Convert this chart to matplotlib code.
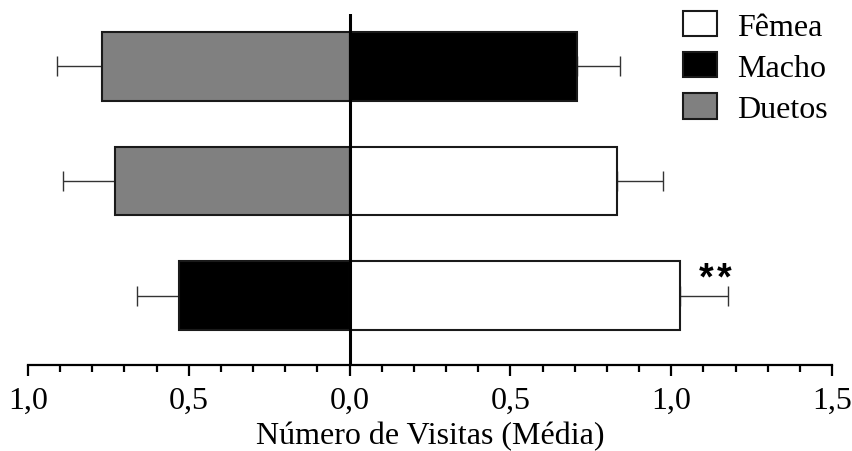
import numpy as np
import matplotlib
matplotlib.use('Agg')
import matplotlib.pyplot as plt
from matplotlib.patches import Patch
from matplotlib.ticker import FixedLocator, FuncFormatter

plt.rcParams['font.family'] = ['Liberation Serif', 'DejaVu Serif']

# rows from bottom to top: Fêmea x Macho, Fêmea x Duetos, Macho x Duetos
rows = [0, 1, 2]
left_vals = [0.529, 0.730, 0.769]
left_err = [0.131, 0.160, 0.140]
left_groups = ['Macho', 'Duetos', 'Duetos']
right_vals = [1.027, 0.830, 0.708]
right_err = [0.149, 0.145, 0.132]
right_groups = ['Fêmea', 'Fêmea', 'Macho']
signif = ['**', '', '']

groups = ['Fêmea', 'Macho', 'Duetos']
colors = {'Fêmea': 'white', 'Macho': 'black', 'Duetos': '#808080'}

fig = plt.figure(figsize=(8.53, 4.52), dpi=100)
ax = fig.add_axes([28 / 853, 1 - 365.5 / 452, 804 / 853, 350.5 / 452])

edge = '#1a1a1a'
ax.barh(rows, [-v for v in left_vals], height=0.6,
        color=[colors[g] for g in left_groups], edgecolor=edge, linewidth=1.5, zorder=2)
ax.barh(rows, right_vals, height=0.6,
        color=[colors[g] for g in right_groups], edgecolor=edge, linewidth=1.5, zorder=2)

# one-sided error bars, pointing away from zero
ax.errorbar([-v for v in left_vals], rows, xerr=[left_err, np.zeros(3)],
            fmt='none', ecolor='#333333', elinewidth=1.0, capsize=7.5, capthick=1.0, zorder=1)
ax.errorbar(right_vals, rows, xerr=[np.zeros(3), right_err],
            fmt='none', ecolor='#333333', elinewidth=1.0, capsize=7.5, capthick=1.0, zorder=1)

# significance stars, spaced out a little
for r, v, s in zip(rows, right_vals, signif):
    n = len(s)
    for i, ch in enumerate(s):
        dx = (i - (n - 1) / 2) * 12.5
        ax.annotate(ch, (v + 0.11, r + 0.06), xytext=(dx, 0), textcoords='offset points',
                    ha='center', va='baseline', fontsize=27, fontweight='bold',
                    family='Liberation Sans')

ax.axvline(0, color='black', linewidth=2.2, zorder=3)

ax.set_xlim(-1.0, 1.5)
ax.set_ylim(-0.6, 2.455)
ax.set_yticks([])
for s in ['left', 'top', 'right']:
    ax.spines[s].set_visible(False)
ax.spines['bottom'].set_linewidth(1.6)

ax.xaxis.set_major_locator(FixedLocator(np.arange(-1.0, 1.51, 0.5)))
ax.xaxis.set_minor_locator(FixedLocator(np.arange(-1.0, 1.51, 0.1)))
ax.xaxis.set_major_formatter(FuncFormatter(lambda x, p: ('%.1f' % abs(x)).replace('.', ',')))
ax.tick_params(axis='x', which='major', direction='out', length=8, width=1.6, labelsize=23, pad=7)
ax.tick_params(axis='x', which='minor', direction='out', length=5, width=1.6)
ax.set_xlabel('Número de Visitas (Média)', fontsize=23, labelpad=5)

handles = [Patch(facecolor=colors[g], edgecolor=edge, linewidth=1.5, label=g) for g in groups]
fig.legend(handles=handles, loc='upper left', bbox_to_anchor=(683 / 853, 1 - 12 / 452),
           frameon=False, fontsize=23, borderpad=0, borderaxespad=0,
           handlelength=1.07, handleheight=0.85, handletextpad=0.62, labelspacing=0.32)

fig.savefig('out.png', dpi=100)
